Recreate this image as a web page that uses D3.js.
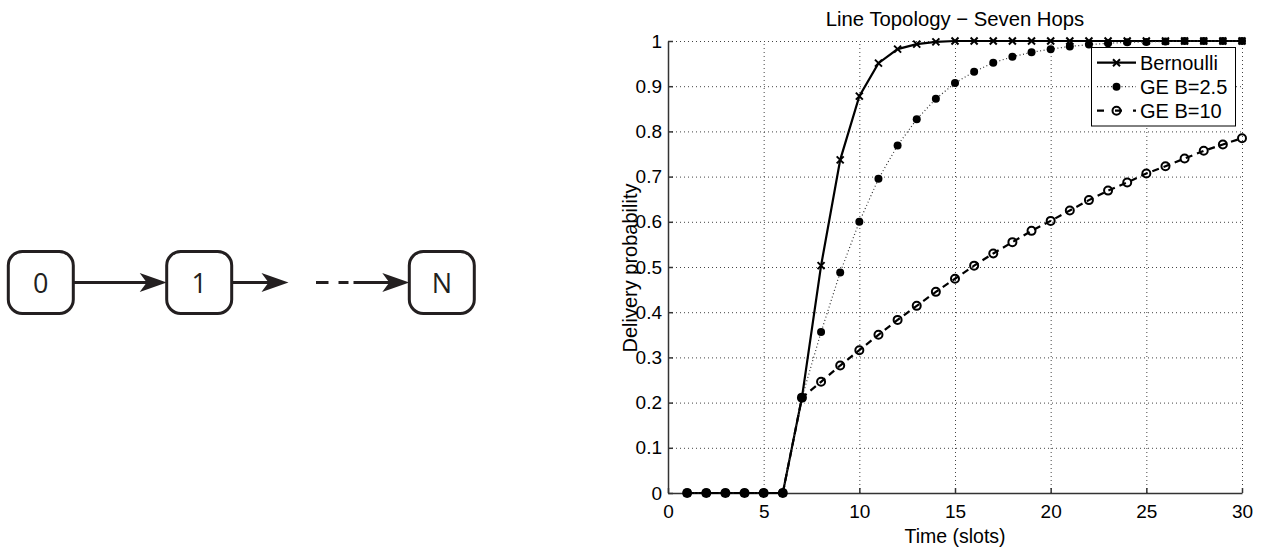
<!DOCTYPE html>
<html>
<head>
<meta charset="utf-8">
<script src="https://cdn.jsdelivr.net/npm/d3@7"></script>
<style>
  html, body { margin: 0; padding: 0; background: #fff; }
  svg { display: block; }
  text { font-family: "Liberation Sans", Arial, sans-serif; }
</style>
</head>
<body>
<div id="chart"></div>
<script>
// Delivery probability per time slot, seven-hop line topology
const slots = [1, 2, 3, 4, 5, 6, 7, 8, 9, 10, 11, 12, 13, 14, 15,
               16, 17, 18, 19, 20, 21, 22, 23, 24, 25, 26, 27, 28, 29, 30];
const bernoulli = [0, 0, 0, 0, 0, 0, 0.211, 0.503, 0.737, 0.878, 0.951, 0.982, 0.993, 0.998, 1,
                   1, 1, 1, 1, 1, 1, 1, 1, 1, 1, 1, 1, 1, 1, 1];
const geB25 = [0, 0, 0, 0, 0, 0, 0.211, 0.356, 0.488, 0.600, 0.695, 0.769, 0.827, 0.872, 0.907,
               0.932, 0.952, 0.965, 0.975, 0.982, 0.988, 0.992, 0.995, 0.997, 0.998, 0.999, 1, 1, 1, 1];
const geB10 = [0, 0, 0, 0, 0, 0, 0.211, 0.246, 0.282, 0.316, 0.350, 0.383, 0.414, 0.445, 0.474,
               0.503, 0.530, 0.555, 0.580, 0.602, 0.625, 0.648, 0.669, 0.687, 0.707, 0.723, 0.740, 0.757, 0.771, 0.785];
const seriesNames = ['Bernoulli', 'GE B=2.5', 'GE B=10'];
const xTicks = [0, 5, 10, 15, 20, 25, 30];
const yTicks = [0, 0.1, 0.2, 0.3, 0.4, 0.5, 0.6, 0.7, 0.8, 0.9, 1];

// Nodes of the line network sketch
const nodeLabels = ['0', '1', 'N'];

const width = 1263;
const height = 550;
const ink = '#231f20';

const svg = d3.select('#chart')
    .append('svg')
    .attr('width', width)
    .attr('height', height);

// ---------- line topology sketch ----------
const sketch = svg.append('g');
const boxW = 65, boxH = 62, boxTop = 251.5;
const nodeLeft = [8.3, 166.7, 409.3];
const midY = boxTop + boxH / 2;

sketch.selectAll('rect.node')
    .data(nodeLabels)
    .enter()
    .append('rect')
    .attr('class', 'node')
    .attr('x', (d, i) => nodeLeft[i])
    .attr('y', boxTop)
    .attr('width', boxW)
    .attr('height', boxH)
    .attr('rx', 14)
    .attr('fill', '#fff')
    .attr('stroke', ink)
    .attr('stroke-width', 3);

sketch.selectAll('text.node')
    .data(nodeLabels)
    .enter()
    .append('text')
    .attr('class', 'node')
    .attr('x', (d, i) => nodeLeft[i] + boxW / 2)
    .attr('y', midY + 10)
    .attr('text-anchor', 'middle')
    .style('font-family', '"Open Sans", "Noto Sans", sans-serif')
    .style('font-size', '27px')
    .attr('fill', ink)
    .text(d => d);

// arrow shafts and heads
function arrow(x0, x1) {
    sketch.append('line')
        .attr('x1', x0).attr('x2', x1 - 12)
        .attr('y1', midY).attr('y2', midY)
        .attr('stroke', ink).attr('stroke-width', 3);
    sketch.append('path')
        .attr('d', `M${x1},${midY} L${x1 - 27},${midY - 9.5} L${x1 - 20},${midY} L${x1 - 27},${midY + 9.5} Z`)
        .attr('fill', ink);
}
arrow(nodeLeft[0] + boxW, nodeLeft[1]);
arrow(nodeLeft[1] + boxW, 288.5);
sketch.append('line')
    .attr('x1', 316).attr('x2', 328.5)
    .attr('y1', midY).attr('y2', midY)
    .attr('stroke', ink).attr('stroke-width', 3);
sketch.append('line')
    .attr('x1', 338.5).attr('x2', 348.5)
    .attr('y1', midY).attr('y2', midY)
    .attr('stroke', ink).attr('stroke-width', 3);
arrow(353.5, nodeLeft[2]);

// ---------- delivery probability plot ----------
const plotLeft = 668, plotRight = 1242, plotTop = 41, plotBottom = 493;

const x = d3.scaleLinear().domain([0, 30]).range([plotLeft, plotRight]);
const y = d3.scaleLinear().domain([0, 1]).range([plotBottom, plotTop]);

// dotted grid
const grid = svg.append('g')
    .attr('stroke', '#444')
    .attr('stroke-width', 1)
    .attr('stroke-dasharray', '1,3');
grid.selectAll('line.gx')
    .data(xTicks.slice(1))
    .enter()
    .append('line')
    .attr('x1', d => x(d) + 0.5).attr('x2', d => x(d) + 0.5)
    .attr('y1', plotBottom).attr('y2', plotTop);
grid.selectAll('line.gy')
    .data(yTicks.slice(1))
    .enter()
    .append('line')
    .attr('x1', plotLeft).attr('x2', plotRight)
    .attr('y1', d => y(d) + 0.5).attr('y2', d => y(d) + 0.5);

// axes with inward ticks
const fmt = d3.format('~g');
const xAxis = svg.append('g')
    .attr('transform', `translate(0, ${plotBottom})`)
    .call(d3.axisBottom(x).tickValues(xTicks).tickFormat(fmt).tickSize(-5).tickSizeOuter(0).tickPadding(8));
const yAxis = svg.append('g')
    .attr('transform', `translate(${plotLeft}, 0)`)
    .call(d3.axisLeft(y).tickValues(yTicks).tickFormat(fmt).tickSize(-5).tickSizeOuter(0).tickPadding(6));

[xAxis, yAxis].forEach(a => {
    a.select('.domain').attr('stroke', '#333').attr('stroke-width', 1.5);
    a.selectAll('.tick line').attr('stroke', '#333').attr('stroke-width', 1.5);
    a.selectAll('.tick text')
        .attr('fill', '#000')
        .style('font-family', '"Liberation Sans", Arial, sans-serif')
        .style('font-size', '19px');
});
xAxis.selectAll('.tick text').attr('dy', '0.72em').attr('y', 11);

// titles
svg.append('text')
    .attr('x', (plotLeft + plotRight) / 2)
    .attr('y', 26)
    .attr('text-anchor', 'middle')
    .style('font-size', '20.3px')
    .text('Line Topology \u2212 Seven Hops');

svg.append('text')
    .attr('x', (plotLeft + plotRight) / 2)
    .attr('y', 543)
    .attr('text-anchor', 'middle')
    .style('font-size', '19.5px')
    .text('Time (slots)');

svg.append('text')
    .attr('transform', 'translate(637, 268) rotate(-90)')
    .attr('text-anchor', 'middle')
    .style('font-size', '20px')
    .text('Delivery probability');

// series
const line = d3.line()
    .x(d => x(d[0]))
    .y(d => y(d[1]));

const pts = vals => slots.map((s, i) => [s, vals[i]]);

const styles = [
    { values: bernoulli, dash: null, width: 2.2, stroke: '#000' },
    { values: geB25, dash: '1,2.5', width: 1.2, stroke: '#333' },
    { values: geB10, dash: '7,5', width: 2.2, stroke: '#000' }
];

function drawMarker(g, kind, cx, cy) {
    if (kind === 0) {
        const s = 3.5;
        g.append('path')
            .attr('d', `M${cx - s},${cy - s} L${cx + s},${cy + s} M${cx - s},${cy + s} L${cx + s},${cy - s}`)
            .attr('stroke', '#000')
            .attr('stroke-width', 2);
    } else if (kind === 1) {
        g.append('circle')
            .attr('cx', cx).attr('cy', cy).attr('r', 4)
            .attr('fill', '#000');
    } else {
        g.append('circle')
            .attr('cx', cx).attr('cy', cy).attr('r', 4)
            .attr('fill', 'none')
            .attr('stroke', '#000')
            .attr('stroke-width', 2);
    }
}

styles.forEach((st, k) => {
    const g = svg.append('g');
    g.append('path')
        .datum(pts(st.values))
        .attr('d', line)
        .attr('fill', 'none')
        .attr('stroke', st.stroke)
        .attr('stroke-width', st.width)
        .attr('stroke-dasharray', st.dash);
    pts(st.values).forEach(p => drawMarker(g, k, x(p[0]), y(p[1])));
});

// legend
const legend = svg.append('g');
legend.append('rect')
    .attr('x', 1091.5)
    .attr('y', 47.5)
    .attr('width', 144)
    .attr('height', 78.5)
    .attr('fill', '#fff')
    .attr('stroke', '#000')
    .attr('stroke-width', 1);

seriesNames.forEach((name, k) => {
    const cy = 62.7 + k * 24;
    const row = legend.append('g');
    row.append('line')
        .attr('x1', 1097).attr('x2', 1136)
        .attr('y1', cy).attr('y2', cy)
        .attr('stroke', styles[k].stroke)
        .attr('stroke-width', styles[k].width)
        .attr('stroke-dasharray', k === 2 ? '7,11' : styles[k].dash);
    drawMarker(row, k, 1116.5, cy);
    row.append('text')
        .attr('x', 1140)
        .attr('y', cy + 7)
        .style('font-size', '20px')
        .text(name);
});
</script>
</body>
</html>
